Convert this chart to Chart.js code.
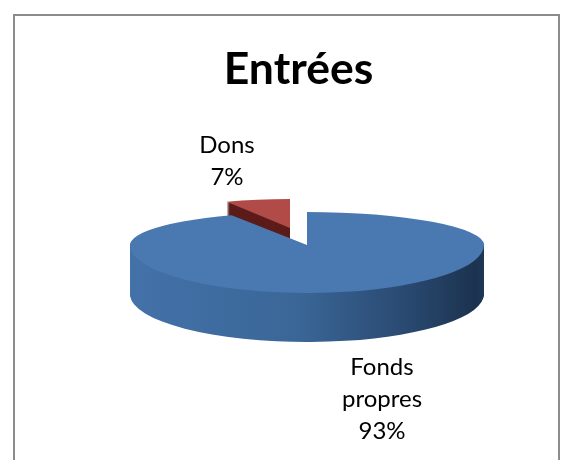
<!DOCTYPE html>
<html>
<head>
<meta charset="utf-8">
<script src="https://cdn.jsdelivr.net/npm/chart.js@4/dist/chart.umd.min.js"></script>
<style>
    html, body { margin: 0; padding: 0; background: #fff; overflow: hidden; }
    #wrap { position: relative; width: 575px; height: 460px; }
    #frame { position: absolute; left: 13px; top: 14px; width: 547px; height: 460px; border: 2px solid #8c8c8c; box-sizing: border-box; }
    canvas { position: absolute; left: 0; top: 0; }
</style>
</head>
<body>
<div id="wrap">
    <div id="frame"></div>
    <canvas id="chart" width="575" height="460"></canvas>
</div>
<script>
const titleText = 'Entrées';
const categories = ['Fonds propres', 'Dons'];
const shares = [93, 7];
const labelLines = [['Fonds', 'propres'], ['Dons']];

// where the tilted pie sits on the page
const pie = { x: 307, y: 245, radius: 177, backRatio: 0.186, frontRatio: 0.271, depth: 49 };
const slice = { x: 290, y: 228, scaleX: 0.84, scaleY: 0.164, depth: 14 };
const labelSpots = [{ x: 382, y: 367 }, { x: 227, y: 145 }];
const labelLeading = 32;

// one arc element, drawn with a squashed canvas
function drawArc(ctx, arc, x, y, sx, sy, color) {
    const saved = arc.options.backgroundColor;
    arc.options.backgroundColor = color;
    ctx.save();
    ctx.translate(x, y);
    ctx.scale(sx, sy);
    ctx.translate(-arc.x, -arc.y);
    arc.draw(ctx);
    ctx.restore();
    arc.options.backgroundColor = saved;
}

// back half is flatter than the front half, a cheap way to fake perspective
function drawDisc(ctx, chart, arc, shift, color) {
    const top = pie.y + shift;
    ctx.save();
    ctx.beginPath();
    ctx.rect(0, 0, chart.width, top);
    ctx.clip();
    drawArc(ctx, arc, pie.x, top, 1, pie.backRatio, color);
    ctx.restore();
    ctx.save();
    ctx.beginPath();
    ctx.rect(0, top, chart.width, chart.height - top);
    ctx.clip();
    drawArc(ctx, arc, pie.x, top, 1, pie.frontRatio, color);
    ctx.restore();
}

const pie3d = {
    id: 'pie3d',
    beforeDatasetsDraw(chart) {
        const ctx = chart.ctx;
        const [blue, red] = chart.getDatasetMeta(0).data;

        for (let d = slice.depth; d > 0; d--) {
            drawArc(ctx, red, slice.x, slice.y + d, slice.scaleX, slice.scaleY, '#5c1c1a');
        }
        drawArc(ctx, red, slice.x, slice.y, slice.scaleX, slice.scaleY, '#b04b47');

        const wall = ctx.createLinearGradient(pie.x - pie.radius, 0, pie.x + pie.radius, 0);
        wall.addColorStop(0, '#4371a8');
        wall.addColorStop(0.45, '#3a6697');
        wall.addColorStop(0.75, '#2a4a72');
        wall.addColorStop(0.95, '#1c3350');
        wall.addColorStop(1, '#1f3a5c');
        for (let d = pie.depth; d > 0; d--) {
            drawDisc(ctx, chart, blue, d, wall);
        }
        drawDisc(ctx, chart, blue, 0, '#4a78b1');
        return false;
    },
    // returning false above skips afterDatasetsDraw, so the labels go here
    afterDraw(chart) {
        const ctx = chart.ctx;
        ctx.save();
        ctx.fillStyle = '#000';
        ctx.font = '24px Lato';
        ctx.textAlign = 'center';
        ctx.textBaseline = 'middle';
        labelLines.forEach((lines, i) => {
            const spot = labelSpots[i];
            [...lines, shares[i] + '%'].forEach((line, n) => {
                ctx.fillText(line, spot.x, spot.y + n * labelLeading);
            });
        });
        ctx.restore();
    }
};

new Chart(document.getElementById('chart').getContext('2d'), {
    type: 'pie',
    data: {
        labels: categories,
        datasets: [{
            data: shares,
            backgroundColor: ['#4a78b1', '#b04b47'],
            borderWidth: 0,
            radius: pie.radius
        }]
    },
    options: {
        responsive: false,
        animation: false,
        layout: { padding: { left: 22 } },
        plugins: {
            legend: { display: false },
            tooltip: { enabled: false },
            title: {
                display: true,
                text: titleText,
                color: '#000',
                font: { family: 'Lato', size: 44.5, weight: 'bold' },
                padding: { top: 43, bottom: 10 }
            }
        }
    },
    plugins: [pie3d]
});
</script>
</body>
</html>
